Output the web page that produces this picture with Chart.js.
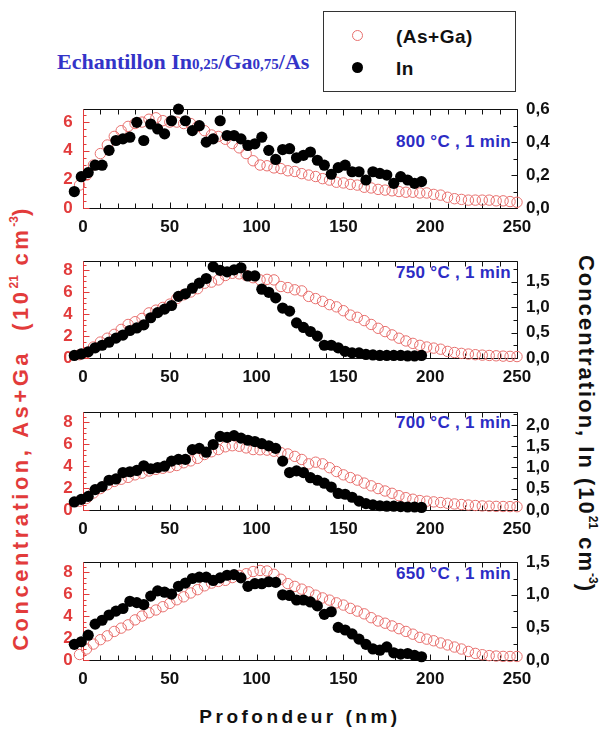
<!DOCTYPE html>
<html>
<head>
<meta charset="utf-8">
<title>Echantillon In0,25/Ga0,75/As</title>
<script src="https://cdn.jsdelivr.net/npm/chart.js@4.4.1/dist/chart.umd.min.js"></script>
<style>
    body { margin: 0; background: #fff; }
    #page { position: relative; width: 603px; height: 731px; overflow: hidden; font-family: "Liberation Sans", Arial, sans-serif; }
    #page canvas { position: absolute; left: 0; }
    .txt { position: absolute; white-space: nowrap; font-weight: bold; line-height: 1; }
    .title { left: 57px; top: 51px; font-family: "Liberation Serif", "Times New Roman", serif; font-size: 22px; color: #3434c8; }
    .title small { font-size: 15px; }
    .box { position: absolute; left: 323px; top: 11px; width: 191px; height: 79px; border: 1px solid #333; }
    .mark { position: absolute; width: 11px; height: 11px; border-radius: 50%; box-sizing: border-box; }
    .lt { font-size: 19px; color: #111; letter-spacing: 0.5px; }
    .temp { font-size: 17px; color: #2c2cc4; letter-spacing: 0.3px; }
    .rot { transform: translate(-50%, -50%) rotate(-90deg); font-size: 22px; letter-spacing: 3.5px; }
    .rotr { transform: translate(-50%, -50%) rotate(90deg); font-size: 22px; letter-spacing: 2px; }
    sup { font-size: 12px; vertical-align: 10px; letter-spacing: 0; }
</style>
</head>
<body>
<div id="page">
    <div class="txt title">Echantillon In<small>0,25</small>/Ga<small>0,75</small>/As</div>
    <div class="box"></div>
    <div class="mark" style="left:352px; top:30px; border:1px solid #e8706e"></div>
    <div class="txt lt" style="left:396px; top:27px">(As+Ga)</div>
    <div class="mark" style="left:352px; top:62px; background:#000"></div>
    <div class="txt lt" style="left:396px; top:59px">In</div>
    <div class="txt temp" style="right:92px; top:133px">800 °C , 1 min</div>
    <div class="txt temp" style="right:92px; top:264px">750 °C , 1 min</div>
    <div class="txt temp" style="right:92px; top:414px">700 °C , 1 min</div>
    <div class="txt temp" style="right:92px; top:565px">650 °C , 1 min</div>
    <div class="txt rot" style="left:20px; top:428px; color:#e23b3b">Concentration, As+Ga&nbsp; (10<sup>21</sup> cm<sup>-3</sup>)</div>
    <div class="txt rotr" style="left:587px; top:424px; color:#111">Concentration, In (10<sup>21</sup> cm<sup>-3</sup>)</div>
    <div class="txt" style="left:300px; top:707px; transform:translateX(-50%); font-size:19px; letter-spacing:3.5px; color:#111">Profondeur (nm)</div>
    <canvas id="p800" width="603" height="150"></canvas>
    <canvas id="p750" width="603" height="150"></canvas>
    <canvas id="p700" width="603" height="150"></canvas>
    <canvas id="p650" width="603" height="150"></canvas>
</div>
<script>
    // depth sampling (nm)
    var depthAsGa = [-2, 2, 6, 10, 14, 18, 22, 26, 30, 34, 38, 42, 46, 50, 54, 58, 62, 66, 70, 74,
        78, 82, 86, 90, 94, 98, 102, 106, 110, 114, 118, 122, 126, 130, 134, 138, 142, 146, 150, 154,
        158, 162, 166, 170, 174, 178, 182, 186, 190, 194, 198, 202, 206, 210, 214, 218, 222, 226, 230, 234,
        238, 242, 246, 250];
    var depthIn = [-5, -1, 3, 7, 11, 15, 19, 23, 27, 31, 35, 39, 43, 47, 51, 55, 59, 63, 67, 71,
        75, 79, 83, 87, 91, 95, 99, 103, 107, 111, 115, 119, 123, 127, 131, 135, 139, 143, 147, 151,
        155, 159, 163, 167, 171, 175, 179, 183, 187, 191, 195];

    // As+Ga concentration (10^21 cm^-3)
    var asGa800 = [1.6, 2.3, 3.0, 3.8, 4.4, 5.0, 5.4, 5.7, 5.9, 6.0, 6.2, 6.3, 6.1, 6.0, 6.0, 5.9, 5.9, 5.7, 5.4, 5.1,
        5.0, 4.8, 4.5, 4.2, 3.8, 3.3, 3.0, 2.95, 2.8, 2.75, 2.6, 2.55, 2.4, 2.3, 2.2, 2.05, 1.95, 1.8, 1.75, 1.65,
        1.6, 1.45, 1.4, 1.3, 1.25, 1.2, 1.15, 1.1, 1.1, 1.05, 1.05, 0.95, 0.9, 0.75, 0.65, 0.6, 0.55, 0.55, 0.55, 0.55,
        0.5, 0.5, 0.45, 0.4];
    var asGa750 = [0.3, 0.5, 1.0, 1.45, 1.8, 2.15, 2.6, 3.05, 3.3, 3.6, 4.1, 4.35, 4.6, 4.9, 5.4, 5.75, 6.0, 6.3, 6.8, 6.9,
        7.1, 7.5, 7.7, 7.65, 7.5, 7.3, 7.1, 7.15, 7.1, 6.5, 6.4, 6.2, 6.1, 5.6, 5.4, 5.15, 4.85, 4.65, 4.3, 3.9,
        3.7, 3.4, 3.05, 2.7, 2.4, 2.1, 1.8, 1.55, 1.33, 1.15, 1.0, 0.9, 0.8, 0.6, 0.5, 0.42, 0.36, 0.3, 0.26, 0.23,
        0.2, 0.17, 0.15, 0.13];
    var asGa700 = [0.8, 1.05, 1.55, 1.95, 2.3, 2.6, 2.8, 2.97, 3.2, 3.35, 3.55, 3.7, 3.8, 3.9, 4.05, 4.3, 4.47, 4.7, 5.05, 5.3,
        5.5, 5.75, 5.85, 5.8, 5.65, 5.5, 5.48, 5.45, 5.35, 5.22, 5.1, 4.88, 4.6, 4.2, 4.35, 4.2, 3.85, 3.5, 3.2, 2.95,
        2.72, 2.45, 2.2, 1.95, 1.73, 1.52, 1.3, 1.12, 0.98, 0.86, 0.8, 0.74, 0.68, 0.61, 0.55, 0.5, 0.45, 0.41, 0.37, 0.35,
        0.33, 0.32, 0.31, 0.3];
    var asGa650 = [0.5, 1.0, 1.45, 1.85, 2.2, 2.6, 2.9, 3.2, 3.65, 4.0, 4.3, 4.55, 4.85, 5.15, 5.48, 5.75, 6.1, 6.4, 6.75, 7.0,
        7.15, 7.25, 7.5, 7.7, 7.85, 8.05, 8.15, 8.1, 7.8, 7.35, 6.95, 6.7, 6.45, 6.2, 5.9, 5.65, 5.45, 5.2, 5.0, 4.7,
        4.45, 4.2, 3.85, 3.55, 3.35, 3.1, 2.85, 2.6, 2.35, 2.06, 1.9, 1.75, 1.55, 1.37, 1.18, 1.0, 0.78, 0.6, 0.48, 0.4,
        0.36, 0.33, 0.32, 0.32];

    // In concentration (10^21 cm^-3)
    var in800 = [0.10, 0.19, 0.215, 0.26, 0.26, 0.35, 0.41, 0.42, 0.43, 0.52, 0.41, 0.51, 0.48, 0.45, 0.53, 0.60, 0.53, 0.47, 0.50, 0.40,
        0.42, 0.53, 0.44, 0.44, 0.42, 0.38, 0.39, 0.43, 0.35, 0.295, 0.355, 0.36, 0.305, 0.32, 0.34, 0.29, 0.26, 0.205, 0.245, 0.26,
        0.22, 0.22, 0.17, 0.22, 0.21, 0.20, 0.15, 0.19, 0.17, 0.15, 0.16];
    var in750 = [0.05, 0.08, 0.12, 0.2, 0.25, 0.31, 0.39, 0.45, 0.54, 0.59, 0.65, 0.79, 0.89, 0.96, 1.03, 1.21, 1.26, 1.37, 1.47, 1.56,
        1.79, 1.72, 1.69, 1.73, 1.77, 1.61, 1.61, 1.35, 1.29, 1.18, 0.98, 0.92, 0.69, 0.6, 0.52, 0.43, 0.25, 0.25, 0.2, 0.13,
        0.10, 0.10, 0.07, 0.06, 0.05, 0.05, 0.05, 0.05, 0.04, 0.04, 0.05];
    var in700 = [0.19, 0.25, 0.32, 0.48, 0.55, 0.70, 0.73, 0.88, 0.9, 0.93, 1.04, 0.97, 1.0, 1.03, 1.15, 1.19, 1.19, 1.42, 1.45, 1.36,
        1.54, 1.73, 1.71, 1.75, 1.69, 1.64, 1.61, 1.56, 1.51, 1.45, 1.15, 0.88, 0.92, 0.88, 0.76, 0.7, 0.63, 0.54, 0.39, 0.37,
        0.3, 0.21, 0.15, 0.12, 0.1, 0.09, 0.09, 0.08, 0.07, 0.07, 0.06];
    var in650 = [0.24, 0.28, 0.38, 0.55, 0.61, 0.69, 0.75, 0.79, 0.9, 0.88, 0.85, 0.98, 1.06, 1.04, 1.01, 1.13, 1.18, 1.25, 1.27, 1.27,
        1.22, 1.26, 1.3, 1.31, 1.26, 1.13, 1.17, 1.17, 1.2, 1.19, 1.0, 0.99, 0.92, 0.92, 0.89, 0.83, 0.7, 0.74, 0.5, 0.46,
        0.4, 0.32, 0.24, 0.17, 0.15, 0.2, 0.11, 0.09, 0.1, 0.07, 0.05];

    var xTicks = [0, 50, 100, 150, 200, 250];

    var RED = '#e23b3b';
    var INK = '#111';
    var X_MIN = -6, X_MAX = 250;
    var AXIS_LEFT = 83, AXIS_RIGHT = 517;

    // the plot area starts a little left of depth 0 so that the first points are drawn;
    // the left axis line itself sits at depth 0
    var frac = (0 - X_MIN) / (X_MAX - X_MIN);
    var areaLeft = (AXIS_LEFT - AXIS_RIGHT * frac) / (1 - frac);

    function pairs(xs, ys) {
        return ys.map(function (v, i) {
            return { x: xs[i], y: v };
        });
    }

    function comma(v) {
        return v.toFixed(1).replace('.', ',');
    }

    // frame and inward ticks on all four sides
    var frameTicks = {
        id: 'frameTicks',
        beforeDatasetsDraw: function (chart, args, o) {
            var ctx = chart.ctx;
            var a = chart.chartArea;
            var sx = chart.scales.x, sl = chart.scales.yL, sr = chart.scales.yR;
            var left = Math.round(sx.getPixelForValue(0)) + 0.5;
            var right = Math.round(a.right) + 0.5;
            var top = Math.round(a.top) + 0.5;
            var bottom = Math.round(a.bottom) + 0.5;
            var v, p, len;
            ctx.save();
            ctx.lineWidth = 1;

            ctx.strokeStyle = INK;
            ctx.beginPath();
            for (v = 0; v <= sx.max + 1e-6; v += 10) {
                p = Math.round(sx.getPixelForValue(v)) + 0.5;
                len = Math.abs(v % 50) < 1e-6 ? 6 : 5;
                ctx.moveTo(p, bottom); ctx.lineTo(p, bottom - len);
                ctx.moveTo(p, top); ctx.lineTo(p, top + len);
            }
            for (v = 0; v <= sr.max + 1e-6; v += o.rMinor) {
                p = Math.round(sr.getPixelForValue(v)) + 0.5;
                len = Math.abs(v / (o.rMinor * 2) - Math.round(v / (o.rMinor * 2))) < 1e-6 ? 6 : 4;
                ctx.moveTo(right, p); ctx.lineTo(right - len, p);
            }
            ctx.moveTo(left, top);
            ctx.lineTo(right, top);
            ctx.lineTo(right, bottom);
            ctx.lineTo(left, bottom);
            ctx.stroke();

            ctx.strokeStyle = RED;
            ctx.beginPath();
            for (v = 0; v <= sl.max + 1e-6; v += 0.5) {
                p = Math.round(sl.getPixelForValue(v)) + 0.5;
                len = Math.abs(v % 2) < 1e-6 ? 6 : 3;
                ctx.moveTo(left, p); ctx.lineTo(left + len, p);
            }
            ctx.moveTo(left, top);
            ctx.lineTo(left, bottom);
            ctx.stroke();
            ctx.restore();
        }
    };

    function makePanel(canvasId, top, height, asGa, inConc, leftMax, rightMax, rightStep) {
        var canvas = document.getElementById(canvasId);
        canvas.style.top = (top - 6) + 'px';
        var tickFont = { family: '"Liberation Sans", Arial, sans-serif', size: 17, weight: 'bold' };

        return new Chart(canvas, {
            type: 'scatter',
            data: {
                datasets: [
                    {
                        label: 'In',
                        data: pairs(depthIn, inConc),
                        yAxisID: 'yR',
                        pointRadius: 5.6,
                        pointBackgroundColor: '#000',
                        pointBorderColor: '#000',
                        pointBorderWidth: 0,
                        clip: false,
                    },
                    {
                        label: '(As+Ga)',
                        data: pairs(depthAsGa, asGa),
                        yAxisID: 'yL',
                        pointRadius: 5.2,
                        pointBackgroundColor: 'rgba(0,0,0,0)',
                        pointBorderColor: '#e8706e',
                        pointBorderWidth: 1,
                        clip: false,
                    },
                ],
            },
            options: {
                responsive: false,
                animation: false,
                devicePixelRatio: 1,
                layout: { padding: { top: 6, left: 0, right: 0, bottom: 0 } },
                plugins: {
                    legend: { display: false },
                    tooltip: { enabled: false },
                    frameTicks: { rMinor: rightStep / 2 },
                },
                scales: {
                    x: {
                        type: 'linear',
                        min: X_MIN,
                        max: X_MAX,
                        afterFit: function (s) { s.height = 150 - 6 - height; },
                        afterBuildTicks: function (s) {
                            s.ticks = xTicks.map(function (v) { return { value: v }; });
                        },
                        grid: { display: false, drawTicks: false },
                        border: { display: false },
                        ticks: { font: tickFont, color: INK, padding: 9, maxRotation: 0, autoSkip: false },
                    },
                    yL: {
                        type: 'linear',
                        position: 'left',
                        min: 0,
                        max: leftMax,
                        afterFit: function (s) { s.width = areaLeft; },
                        grid: { display: false, drawTicks: false },
                        border: { display: false },
                        ticks: { stepSize: 2, includeBounds: false, autoSkip: false, font: tickFont, color: RED, padding: 0 },
                    },
                    yR: {
                        type: 'linear',
                        position: 'right',
                        min: 0,
                        max: rightMax,
                        afterFit: function (s) { s.width = 603 - AXIS_RIGHT; },
                        grid: { display: false, drawTicks: false },
                        border: { display: false },
                        ticks: {
                            stepSize: rightStep,
                            includeBounds: false,
                            autoSkip: false,
                            font: tickFont,
                            color: INK,
                            padding: 9,
                            callback: function (v) { return comma(v); },
                        },
                    },
                },
            },
            plugins: [frameTicks],
        });
    }

    makePanel('p800', 96, 112, asGa800, in800, 6.9, 0.6, 0.2);
    makePanel('p750', 248, 110, asGa750, in750, 8.8, 1.9, 0.5);
    makePanel('p700', 399, 111, asGa700, in700, 8.9, 2.3, 0.5);
    makePanel('p650', 549, 111, asGa650, in650, 8.9, 1.5, 0.5);
</script>
</body>
</html>
